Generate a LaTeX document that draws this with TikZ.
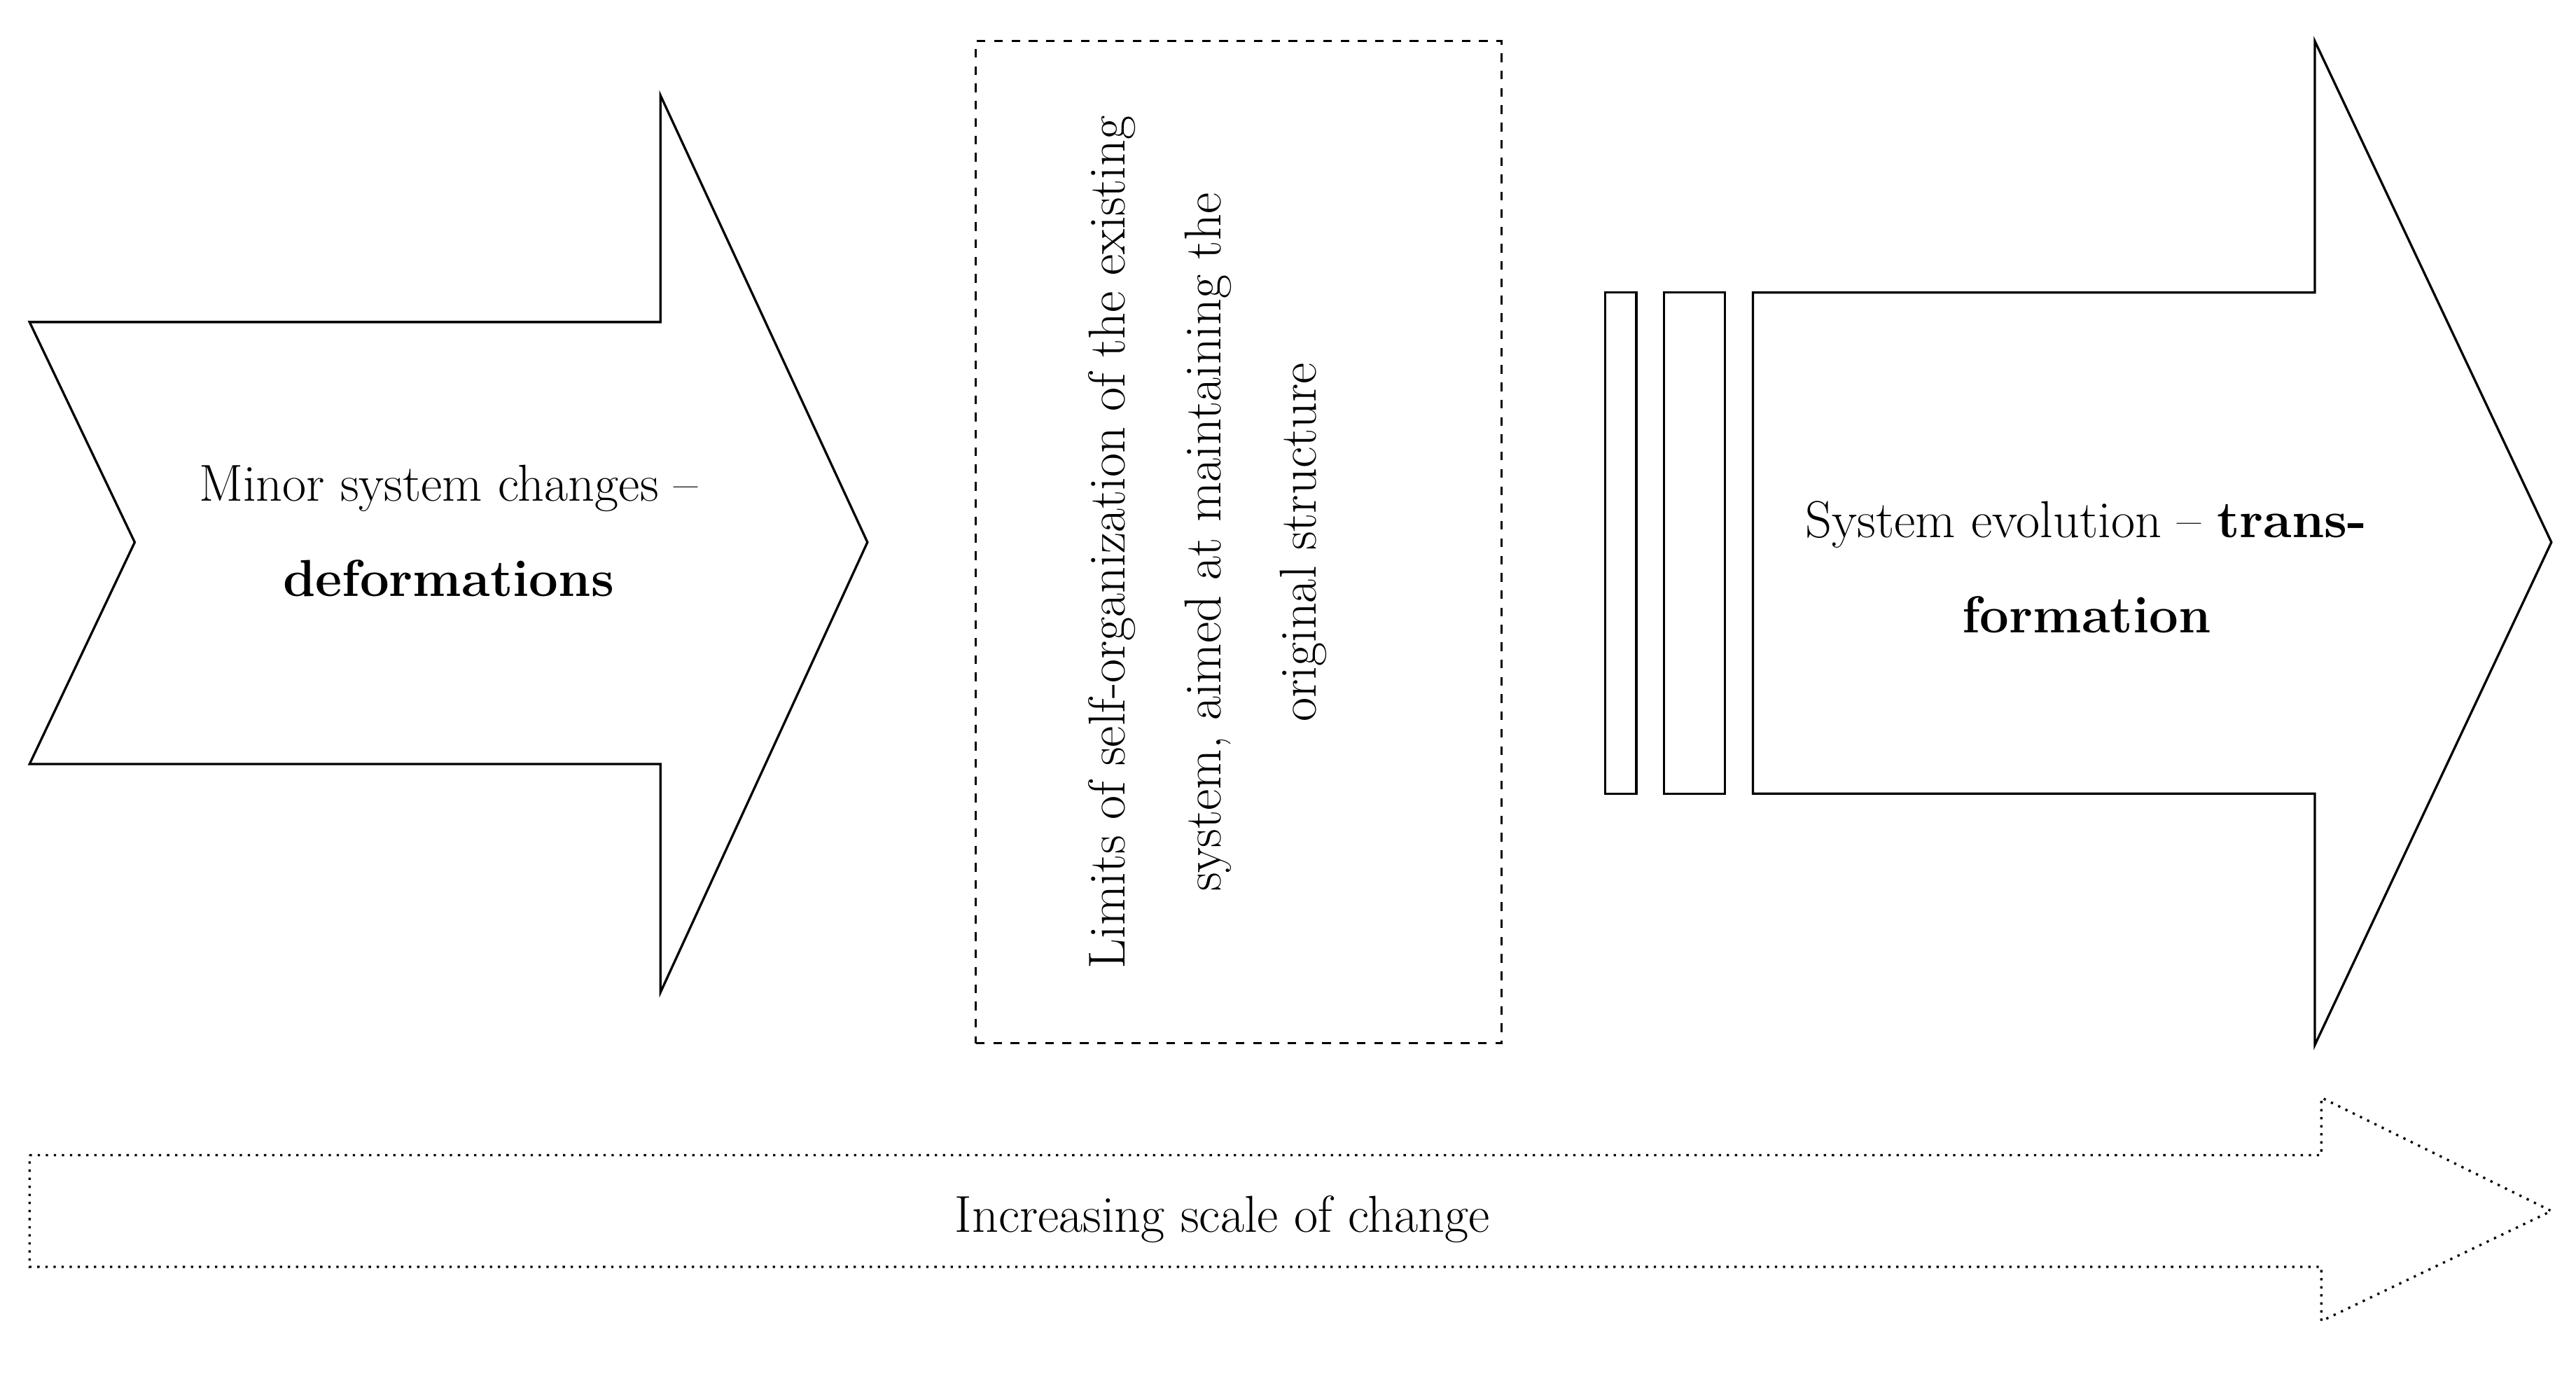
\documentclass[tikz,border=0pt]{standalone}
\usepackage{fontspec}
\tikzstyle{bigarrow} = [draw, thick, fill=white, line join=miter]
\tikzstyle{lbl} = [align=center, font=\fontsize{18}{33}\selectfont]

\begin{document}
\begin{tikzpicture}[x=0.02cm, y=-0.02cm]
  \useasboundingbox (0,0) rectangle (1568,836);
  % left arrow
  \draw[bigarrow] (18,196) -- (402,196) -- (402,58) -- (528,330) -- (402,604)
    -- (402,465) -- (18,465) -- (82,330) -- cycle;
  \node at (273,323) (minor) [lbl] {Minor system changes --\\\textbf{deformations}};
  % limits box
  \node at (754,330) (limits) [draw, thick, dashed, minimum width=6.4cm, minimum height=12.2cm] {};
  \node at (735,330) (limtext) [lbl, rotate=90]
    {Limits of self-organization of the existing\\system, aimed at maintaining the\\original structure};
  % bars and right arrow
  \node at (986.5,330.5) (bar1) [draw, thick, minimum width=0.38cm, minimum height=6.1cm, inner sep=0] {};
  \node at (1031.5,330.5) (bar2) [draw, thick, minimum width=0.74cm, minimum height=6.1cm, inner sep=0] {};
  \draw[bigarrow] (1067,178) -- (1409,178) -- (1409,25) -- (1553,330) -- (1409,636)
    -- (1409,483) -- (1067,483) -- cycle;
  \node at (1270,345) (evol) [lbl] {System evolution -- \textbf{trans-}\\\textbf{formation}};
  % scale arrow
  \draw[thick, dotted] (18,703) -- (1413,703) -- (1413,668) -- (1553,737) -- (1413,804)
    -- (1413,771) -- (18,771) -- cycle;
  \node at (744,742) (scale) [font=\fontsize{18}{22}\selectfont\addfontfeature{LetterSpace=55}]
    {Increasing scale of change};
\end{tikzpicture}
\end{document}
